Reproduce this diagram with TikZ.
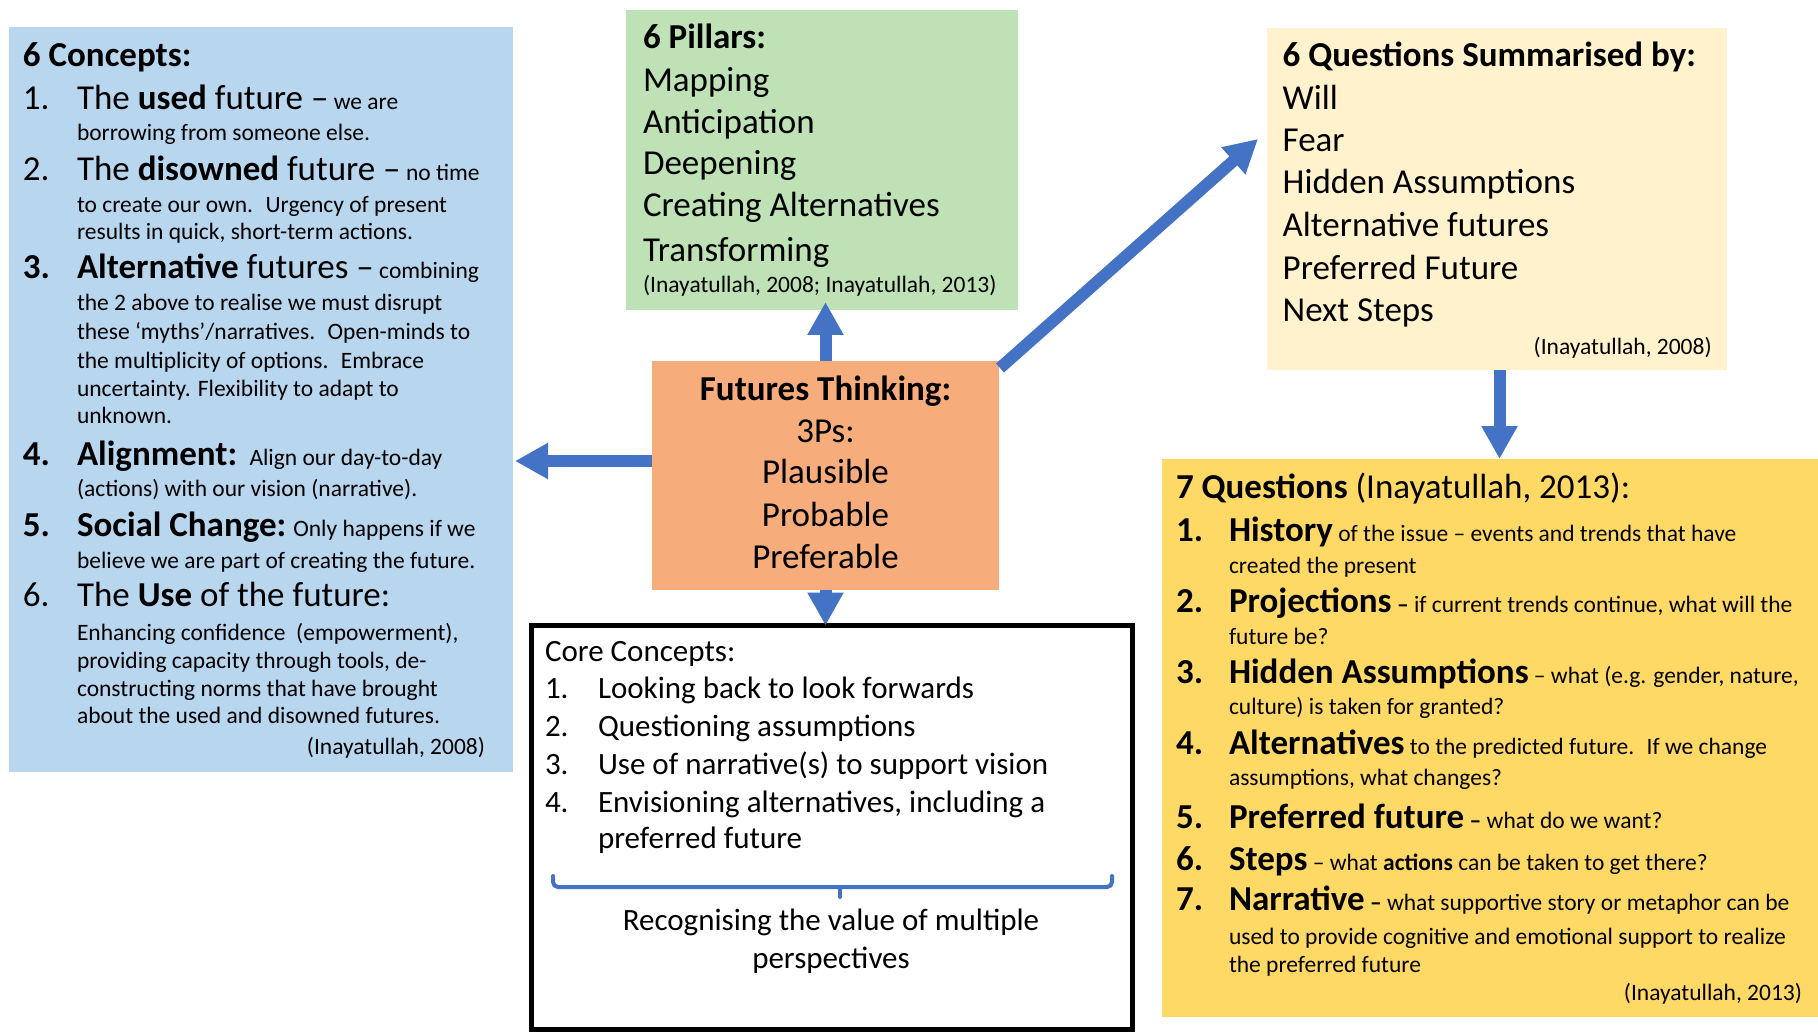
\documentclass[tikz,border=0pt]{standalone}
\usepackage{fontspec}
\setmainfont{Carlito}
\usetikzlibrary{arrows.meta}
\definecolor{bluebox}{RGB}{185,214,239}
\definecolor{greenbox}{RGB}{190,226,182}
\definecolor{creambox}{RGB}{255,242,204}
\definecolor{yellowbox}{RGB}{255,217,102}
\definecolor{orangebox}{RGB}{247,172,124}
\definecolor{arrowblue}{RGB}{68,114,196}
\newcommand{\FBig}{\fontsize{35}{42}\selectfont}
\newcommand{\FSm}{\fontsize{23.5}{28}\selectfont}
\newcommand{\FMid}{\fontsize{31}{37}\selectfont}
\tikzset{
  box/.style={anchor=north west, inner sep=0pt, outer sep=0pt, draw=none},
  tl/.style={anchor=base west, inner sep=0pt, outer sep=0pt},
  tr/.style={anchor=base east, inner sep=0pt, outer sep=0pt},
  tc/.style={anchor=base, inner sep=0pt, outer sep=0pt},
  arr/.style={draw=arrowblue, line width=12pt, -{Triangle[width=34pt,length=33pt]}},
  bracket/.style={draw=arrowblue, line width=4pt, line cap=round},
}
\begin{document}
\begin{tikzpicture}[x=1pt,y=-1pt]
\useasboundingbox[fill=white] (0,0) rectangle (1818,1032);

% boxes
\node[box, fill=bluebox, minimum width=504pt, minimum height=745pt] (blue) at (9,27) {};
\node[box, fill=greenbox, minimum width=392pt, minimum height=300pt] (green) at (626,10) {};
\node[box, fill=creambox, minimum width=460pt, minimum height=342pt] (cream) at (1267,28) {};
\node[box, fill=yellowbox, minimum width=656pt, minimum height=558pt] (yellow) at (1162,459) {};
\node[box, fill=orangebox, minimum width=347pt, minimum height=229pt] (orange) at (652,361) {};
\node[box, draw=black, line width=5pt, minimum width=601pt, minimum height=404pt] (black) at (531.5,625.5) {};

% arrows
\draw[arr, shorten >=-8pt] (orange.north) -- (orange.north |- green.south);
\coordinate (ltip) at (515,461);
\draw[arr] ([yshift=14.5pt]orange.west) -- (ltip);
\coordinate (dtip) at (1258,139);
\draw[arr] ([xshift=1pt,yshift=-7pt]orange.north east) -- (dtip);
\draw[arr] ([xshift=2.5pt]cream.south) -- ([xshift=2.5pt]cream.south |- yellow.north);
\draw[arr] (orange.south) -- (orange.south |- black.north);

% bracket
\coordinate (brl) at (553,876);
\coordinate (brr) at (1112,876);
\coordinate (brm) at (840,887);
\draw[bracket, rounded corners=5pt] (brl) -- (553,887) -- (1112,887) -- (brr);
\draw[bracket] (brm) -- (840,897);

% ---- blue box text
\node[tl] (b0) at (23,66.7) {\FBig\textbf{6 Concepts:}};
\node[tl] (b1n) at (23,109.5) {\FBig 1.};
\node[tl] (b1) at (77,109.5) {\FBig The \textbf{used} future –\FSm{} we are};
\node[tl] (b1b) at (77,141) {\FSm borrowing from someone else.};
\node[tl] (b2n) at (23,180.5) {\FBig 2.};
\node[tl] (b2) at (77,180.5) {\FBig The \textbf{disowned} future –\FSm{} no time};
\node[tl] (b2b) at (77,213) {\FSm to create our own.~ Urgency of present};
\node[tl] (b2c) at (77,240) {\FSm results in quick, short-term actions.};
\node[tl] (b3n) at (23,279) {\FBig\textbf{3.}};
\node[tl] (b3) at (77,279) {\FBig\textbf{Alternative} futures –\FSm{} combining};
\node[tl] (b3b) at (77,311) {\FSm the 2 above to realise we must disrupt};
\node[tl] (b3c) at (77,339.5) {\FSm these ‘myths’/narratives.~ Open-minds to};
\node[tl] (b3d) at (77,368) {\FSm the multiplicity of options.~ Embrace};
\node[tl] (b3e) at (77,396.5) {\FSm uncertainty. Flexibility to adapt to};
\node[tl] (b3f) at (77,423) {\FSm unknown.};
\node[tl] (b4n) at (23,465) {\FBig\textbf{4.}};
\node[tl] (b4) at (77,465) {\FBig\textbf{Alignment:}\FSm{}~ Align our day-to-day};
\node[tl] (b4b) at (77,496.7) {\FSm (actions) with our vision (narrative).};
\node[tl] (b5n) at (23,536.7) {\FBig\textbf{5.}};
\node[tl] (b5) at (77,536.7) {\FBig\textbf{Social Change:}\FSm{} Only happens if we};
\node[tl] (b5b) at (77,568.3) {\FSm believe we are part of creating the future.};
\node[tl] (b6n) at (23,606.7) {\FBig 6.};
\node[tl] (b6) at (77,606.7) {\FBig The \textbf{Use} of the future:};
\node[tl] (b6b) at (77,640) {\FSm Enhancing confidence~ (empowerment),};
\node[tl] (b6c) at (77,668.3) {\FSm providing capacity through tools, de-};
\node[tl] (b6d) at (77,696.7) {\FSm constructing norms that have brought};
\node[tl] (b6e) at (77,723.3) {\FSm about the used and disowned futures.};
\node[tr] (bcit) at (485,754) {\FSm (Inayatullah, 2008)};

% ---- green box text
\node[tl] (g0) at (643,49) {\FBig\textbf{6 Pillars:}};
\node[tl] (g1) at (643,92) {\FBig Mapping};
\node[tl] (g2) at (643,133.5) {\FBig Anticipation};
\node[tl] (g3) at (643,175) {\FBig Deepening};
\node[tl] (g4) at (643,216.7) {\FBig Creating Alternatives};
\node[tl] (g5) at (643,262) {\FBig Transforming};
\node[tl] (gcit) at (643,293) {\FSm (Inayatullah, 2008; Inayatullah, 2013)};

% ---- cream box text
\node[tl] (c0) at (1282.7,66.7) {\FBig\textbf{6 Questions Summarised by:}};
\node[tl] (c1) at (1282.7,110) {\FBig Will};
\node[tl] (c2) at (1282.7,151.7) {\FBig Fear};
\node[tl] (c3) at (1282.7,194) {\FBig Hidden Assumptions};
\node[tl] (c4) at (1282.7,236.7) {\FBig Alternative futures};
\node[tl] (c5) at (1282.7,280) {\FBig Preferred Future};
\node[tl] (c6) at (1282.7,321.7) {\FBig Next Steps};
\node[tr] (ccit) at (1711.7,355) {\FSm (Inayatullah, 2008)};

% ---- orange box text
\node[tc] (o0) at (825.5,400.5) {\FBig\textbf{Futures Thinking:}};
\node[tc] (o1) at (825.5,442) {\FBig 3Ps:};
\node[tc] (o2) at (825.5,483.5) {\FBig Plausible};
\node[tc] (o3) at (825.5,526) {\FBig Probable};
\node[tc] (o4) at (825.5,568) {\FBig Preferable};

% ---- yellow box text
\node[tl] (y0) at (1176,498.5) {\FBig\textbf{7 Questions} (Inayatullah, 2013):};
\node[tl] (y1n) at (1176,541.5) {\FBig\textbf{1.}};
\node[tl] (y1) at (1229,541.5) {\FBig\textbf{History}\FSm{} of the issue – events and trends that have};
\node[tl] (y1b) at (1229,573) {\FSm created the present};
\node[tl] (y2n) at (1176,612.5) {\FBig\textbf{2.}};
\node[tl] (y2) at (1229,612.5) {\FBig\textbf{Projections}\FSm{} \textbf{–} if current trends continue, what will the};
\node[tl] (y2b) at (1229,644) {\FSm future be?};
\node[tl] (y3n) at (1176,683) {\FBig\textbf{3.}};
\node[tl] (y3) at (1229,683) {\FBig\textbf{Hidden Assumptions}\FSm{} – what (e.g. gender, nature,};
\node[tl] (y3b) at (1229,714.5) {\FSm culture) is taken for granted?};
\node[tl] (y4n) at (1176,754) {\FBig\textbf{4.}};
\node[tl] (y4) at (1229,754) {\FBig\textbf{Alternatives}\FSm{} to the predicted future.~ If we change};
\node[tl] (y4b) at (1229,785.5) {\FSm assumptions, what changes?};
\node[tl] (y5n) at (1176,828) {\FBig\textbf{5.}};
\node[tl] (y5) at (1229,828) {\FBig\textbf{Preferred future}\FSm{} \textbf{–} what do we want?};
\node[tl] (y6n) at (1176,870) {\FBig\textbf{6.}};
\node[tl] (y6) at (1229,870) {\FBig\textbf{Steps}\FSm{} – what \textbf{actions} can be taken to get there?};
\node[tl] (y7n) at (1176,910) {\FBig\textbf{7.}};
\node[tl] (y7) at (1229,910) {\FBig\textbf{Narrative}\FSm{} \textbf{–} what supportive story or metaphor can be};
\node[tl] (y7b) at (1229,944) {\FSm used to provide cognitive and emotional support to realize};
\node[tl] (y7c) at (1229,972) {\FSm the preferred future};
\node[tr] (ycit) at (1802,1000) {\FSm (Inayatullah, 2013)};

% ---- black box text
\node[tl] (k0) at (545,661) {\FMid Core Concepts:};
\node[tl] (k1n) at (545,698) {\FMid 1.};
\node[tl] (k1) at (598,698) {\FMid Looking back to look forwards};
\node[tl] (k2n) at (545,736.5) {\FMid 2.};
\node[tl] (k2) at (598,736.5) {\FMid Questioning assumptions};
\node[tl] (k3n) at (545,774.5) {\FMid 3.};
\node[tl] (k3) at (598,774.5) {\FMid Use of narrative(s) to support vision};
\node[tl] (k4n) at (545,812) {\FMid 4.};
\node[tl] (k4) at (598,812) {\FMid Envisioning alternatives, including a};
\node[tl] (k4b) at (598,848.5) {\FMid preferred future};
\node[tc] (k5) at (831,930.5) {\FMid Recognising the value of multiple};
\node[tc] (k6) at (831,968) {\FMid perspectives};
\end{tikzpicture}
\end{document}
